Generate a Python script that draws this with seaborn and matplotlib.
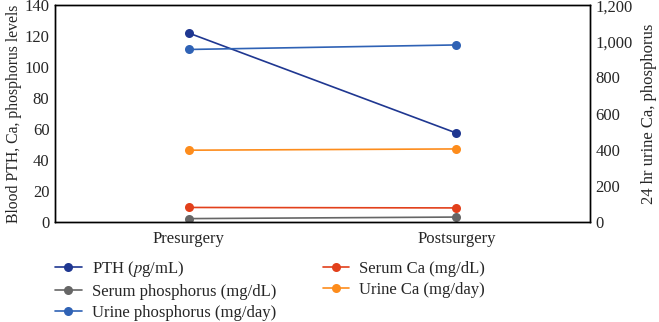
import matplotlib
matplotlib.use("Agg")
import matplotlib.pyplot as plt
import seaborn as sns
import pandas as pd
from matplotlib.ticker import FuncFormatter, MultipleLocator

stages = ["Presurgery", "Postsurgery"]
pth = [122, 57.5]
serum_ca = [9.5, 9.2]
serum_phos = [2.3, 3.3]
urine_ca = [398, 405]
urine_phos = [955, 980]

left_series = {"PTH (pg/mL)": pth, "Serum Ca (mg/dL)": serum_ca,
               "Serum phosphorus (mg/dL)": serum_phos}
right_series = {"Urine Ca (mg/day)": urine_ca, "Urine phosphorus (mg/day)": urine_phos}
colors = {"PTH (pg/mL)": "#1f3791", "Serum Ca (mg/dL)": "#e2401b",
          "Serum phosphorus (mg/dL)": "#666666", "Urine Ca (mg/day)": "#fd8c1c",
          "Urine phosphorus (mg/day)": "#2f62b5"}

sns.set_theme(style="white")
plt.rcParams["font.family"] = ["Liberation Serif", "DejaVu Serif"]
plt.rcParams["mathtext.fontset"] = "stix"

def to_long(d):
    rows = []
    for k, vals in d.items():
        for s, v in zip(stages, vals):
            rows.append({"Stage": s, "Series": k, "Value": v})
    return pd.DataFrame(rows)

fig = plt.figure(figsize=(6.59, 3.22), dpi=100)
ax = fig.add_axes([0.0835, 0.31, 0.812, 0.674])
ax2 = ax.twinx()

dl = to_long(left_series)
dr = to_long(right_series)
for k in left_series:
    sub = dl[dl.Series == k]
    sns.lineplot(data=sub, x="Stage", y="Value", ax=ax, color=colors[k], marker="o",
                 markersize=6.5, markeredgewidth=0, linewidth=1.2, label=k, sort=False)
for k in right_series:
    sub = dr[dr.Series == k]
    sns.lineplot(data=sub, x="Stage", y="Value", ax=ax2, color=colors[k], marker="o",
                 markersize=6.5, markeredgewidth=0, linewidth=1.2, label=k, sort=False)

h1, l1 = ax.get_legend_handles_labels()
h2, l2 = ax2.get_legend_handles_labels()
hd = dict(zip(l1 + l2, h1 + h2))
for a in (ax, ax2):
    if a.get_legend():
        a.get_legend().remove()

order = ["PTH (pg/mL)", "Serum phosphorus (mg/dL)", "Urine phosphorus (mg/day)",
         "Serum Ca (mg/dL)", "Urine Ca (mg/day)"]
disp = {"PTH (pg/mL)": "PTH ($\\it{p}$g/mL)"}
fig.legend([hd[k] for k in order], [disp.get(k, k) for k in order], ncol=2,
           loc="upper left", bbox_to_anchor=(0.0835, 0.195), frameon=False, fontsize=12,
           handlelength=1.6, handletextpad=0.6, columnspacing=2.8, labelspacing=0.3,
           borderpad=0, borderaxespad=0)

ax.set_xlim(-0.5, 1.5)
ax.set_ylim(0, 140)
ax2.set_ylim(0, 1200)
ax.yaxis.set_major_locator(MultipleLocator(20))
ax2.yaxis.set_major_locator(MultipleLocator(200))
ax2.yaxis.set_major_formatter(FuncFormatter(lambda v, p: f"{int(v):,}"))
ax.set_xlabel("")
ax.set_ylabel("Blood PTH, Ca, phosphorus levels", fontsize=11.3, labelpad=2)
ax2.set_ylabel("24 hr urine Ca, phosphorus", fontsize=12, labelpad=6)
for a in (ax, ax2):
    a.tick_params(axis="y", labelsize=12, length=0, pad=4)
    for s in a.spines.values():
        s.set_color("black")
        s.set_linewidth(1)
ax.tick_params(axis="x", labelsize=12, length=0, pad=6)
ax.grid(False)
ax2.grid(False)

fig.savefig("out.png", dpi=100)
